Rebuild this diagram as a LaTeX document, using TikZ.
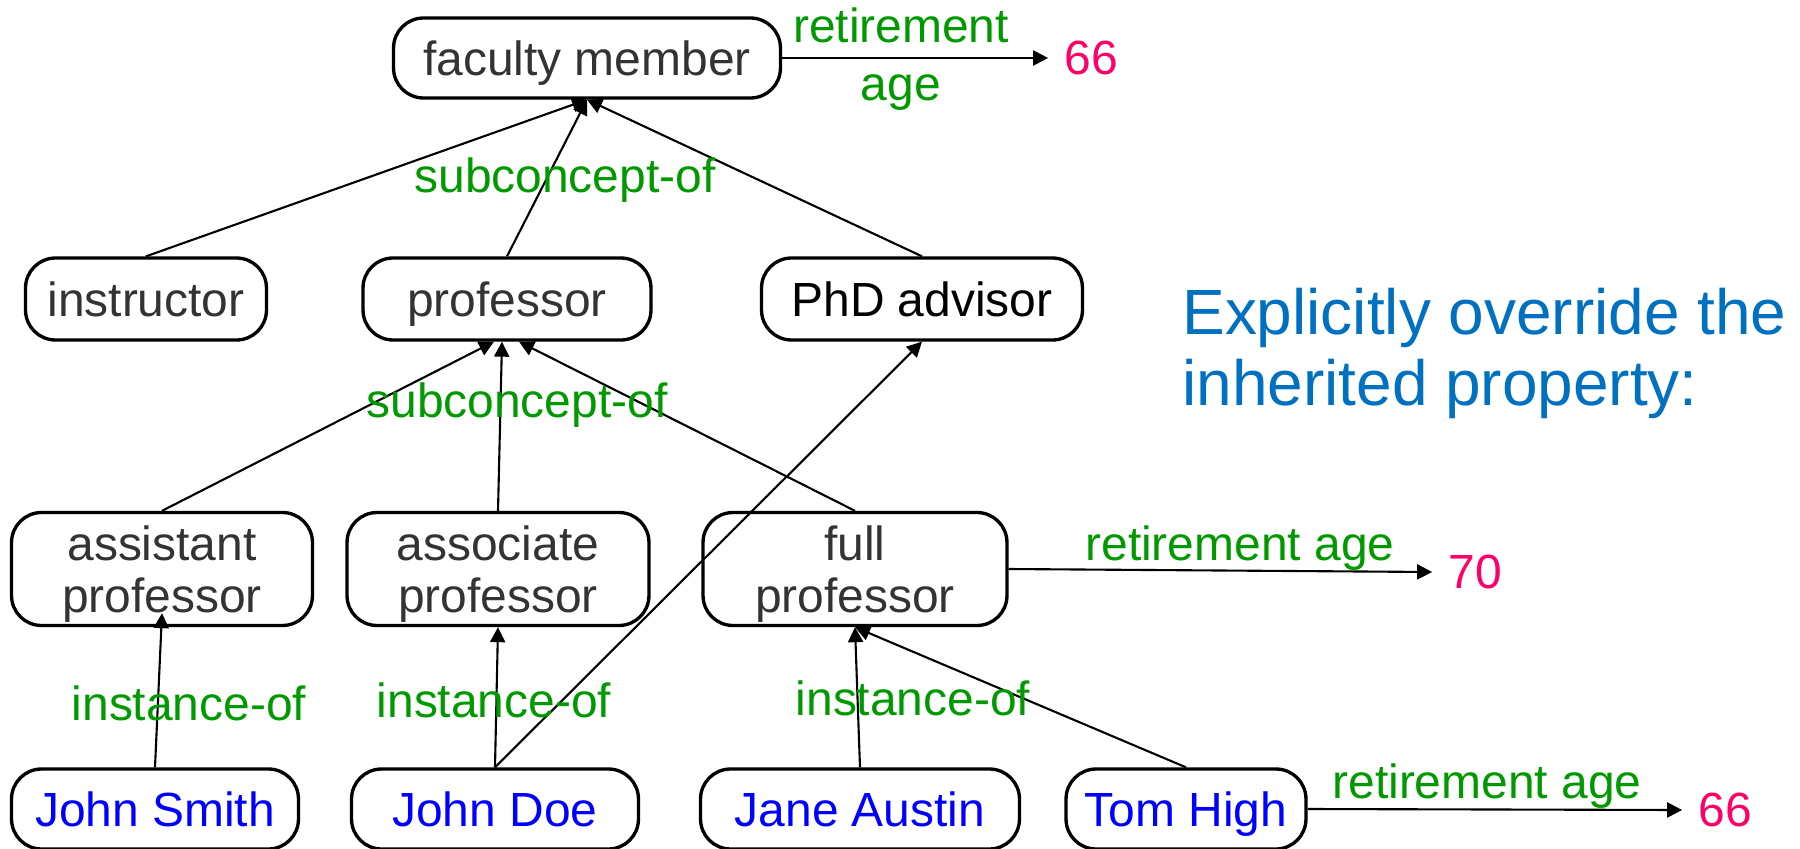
\documentclass[tikz,border=0pt]{standalone}
\usepackage{fontspec}
\setmainfont{Liberation Sans}
\usepackage{tikz}
\usetikzlibrary{positioning,arrows.meta}
\definecolor{conceptgray}{HTML}{333333}
\definecolor{relgreen}{HTML}{009900}
\definecolor{valpink}{HTML}{FF0066}
\definecolor{nameblue}{HTML}{0000FF}
\definecolor{noteblue}{HTML}{0070C0}
\newcommand{\topstrut}{\rule{0pt}{26pt}}

\begin{document}
\begin{tikzpicture}[x=0.02cm,y=-0.02cm,
		concept/.style={draw=black,line width=1.9pt,rounded corners=0.6cm,align=center,inner sep=0pt,text=conceptgray,font=\fontsize{27.3}{29.6}\selectfont},
		oneline/.style={text height=24.6pt,text depth=4.6pt},
		rel/.style={text=relgreen,inner sep=0pt,text height=24.6pt,text depth=4.6pt,font=\fontsize{27.3}{30}\selectfont},
		val/.style={text=valpink,inner xsep=9pt,inner ysep=0pt,font=\fontsize{27.3}{30}\selectfont},
		link/.style={-{Triangle[length=0.3cm,width=0.3cm]},line width=1.2pt}]
		\useasboundingbox (0,0) rectangle (1800,849);
		
		% concepts
		\node[concept,oneline,minimum width=7.74cm,minimum height=1.6cm] (faculty) at (587,58) {faculty member};
		\node[concept,oneline,minimum width=4.82cm,minimum height=1.64cm] (instructor) at (146,299) {instructor};
		\node[concept,oneline,minimum width=5.76cm,minimum height=1.64cm] (professor) at (507,299) {professor};
		\node[concept,oneline,minimum width=6.42cm,minimum height=1.64cm,text=black] (phd) at (922,299) {PhD advisor};
		\node[concept,minimum width=6.02cm,minimum height=2.26cm] (assistant) at (162,569) {\topstrut assistant\\professor};
		\node[concept,minimum width=6.04cm,minimum height=2.26cm] (associate) at (498,569) {\topstrut associate\\professor};
		\node[concept,minimum width=6.08cm,minimum height=2.26cm] (full) at (855,569) {\topstrut full\\professor};
		
		% instances
		\node[concept,oneline,minimum width=5.74cm,minimum height=1.6cm,text=nameblue] (smith) at (155,809) {John Smith};
		\node[concept,oneline,minimum width=5.74cm,minimum height=1.6cm,text=nameblue] (doe) at (495,809) {John Doe};
		\node[concept,oneline,minimum width=6.38cm,minimum height=1.6cm,text=nameblue] (austin) at (860,809) {Jane Austin};
		\node[concept,oneline,minimum width=4.8cm,minimum height=1.6cm,text=nameblue] (high) at (1186,809) {Tom High};
		
		% values
		\node[val] (age66a) at (1091,58) {66};
		\node[val] (age70) at (1475,572) {70};
		\node[val] (age66b) at (1725,810) {66};
		
		% subconcept-of
		\draw[link] (instructor.north) -- (faculty.south);
		\draw[link] (professor.north) -- (faculty.south);
		\draw[link] (phd.north) -- (faculty.south);
		\draw[link] (assistant.north) -- ([xshift=-0.26cm]professor.south);
		\draw[link] (associate.north) -- ([xshift=-0.1cm]professor.south);
		\draw[link] (full.north) -- ([xshift=0.24cm]professor.south);
		
		% instance-of
		\draw[link] (smith.north) -- ([yshift=0.28cm]assistant.south);
		\draw[link] (doe.north) -- (associate.south);
		\draw[link] (doe.north) -- (phd.south);
		\draw[link] (austin.north) -- (full.south);
		\draw[link] (high.north) -- (full.south);
		
		% retirement age
		\draw[link] (faculty.east) -- (age66a.west);
		\draw[link] (full.east) -- (age70.west);
		\draw[link] (high.east) -- (age66b.west);
		
		% labels
		\node[rel] (ret1) at (901,25) {retirement};
		\node[rel] (ret1age) at (901,83) {age};
		\node[rel] (sub1) at (565,175) {subconcept-of};
		\node[rel] (sub2) at (517,400) {subconcept-of};
		\node[rel] (ret2) at (1240,543) {retirement age};
		\node[rel] (inst1) at (189,703) {instance-of};
		\node[rel] (inst2) at (494,700) {instance-of};
		\node[rel] (inst3) at (913,698) {instance-of};
		\node[rel] (ret3) at (1487,781) {retirement age};
		
		\node[align=left,anchor=west,inner sep=0pt,text=noteblue,font=\fontsize{36.4}{40.4}\selectfont] (note) at (1182,353) {Explicitly override the\\inherited property:};
	\end{tikzpicture}
\end{document}
